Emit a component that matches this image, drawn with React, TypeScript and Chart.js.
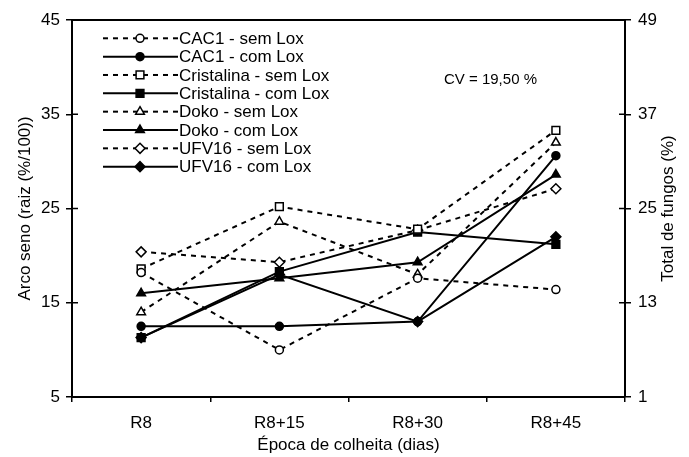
import React, { useEffect, useRef } from 'react';
import { Chart, registerables } from 'chart.js';
import { drawPoint } from 'chart.js/helpers';

Chart.register(...registerables);

const categories = ['R8', 'R8+15', 'R8+30', 'R8+45'];

const cac1Sem = [18.2, 10.0, 17.6, 16.4];
const cac1Com = [12.5, 12.5, 13.0, 30.6];
const cristalinaSem = [18.6, 25.2, 22.8, 33.3];
const cristalinaCom = [11.3, 18.3, 22.5, 21.2];
const dokoSem = [14.0, 23.6, 18.0, 32.0];
const dokoCom = [16.0, 17.6, 19.3, 28.6];
const ufv16Sem = [20.4, 19.3, 22.7, 27.1];
const ufv16Com = [11.3, 18.0, 13.0, 22.0];

const seriesLabels = [
  'CAC1 - sem Lox',
  'CAC1 - com Lox',
  'Cristalina - sem Lox',
  'Cristalina - com Lox',
  'Doko - sem Lox',
  'Doko - com Lox',
  'UFV16 - sem Lox',
  'UFV16 - com Lox',
];
const seriesData = [cac1Sem, cac1Com, cristalinaSem, cristalinaCom, dokoSem, dokoCom, ufv16Sem, ufv16Com];
const seriesMarkers = ['circle', 'circle', 'rect', 'rect', 'triangle', 'triangle', 'rectRot', 'rectRot'];
const seriesOpen = [true, false, true, false, true, false, true, false];

const leftTitle = 'Arco seno (raiz (%/100))';
const rightTitle = 'Total de fungos (%)';
const bottomTitle = 'Época de colheita (dias)';
const cvText = 'CV = 19,50 %';

const leftMin = 5, leftMax = 45, leftStep = 10;
const rightMin = 1, rightMax = 49, rightStep = 12;

const FONT = "'Liberation Sans', Arial, Helvetica, sans-serif";
const markerRadius: Record<string, number> = { circle: 4, rect: 5.5, triangle: 5, rectRot: 5 };

const decorPlugin = {
  id: 'decor',
  afterDraw(chart: any) {
    const { ctx, chartArea } = chart;
    const { left, right, top, bottom } = chartArea;
    ctx.save();
    ctx.strokeStyle = '#000';
    ctx.lineWidth = 2;
    ctx.setLineDash([]);
    ctx.beginPath();
    ctx.moveTo(left - 1, top);
    ctx.lineTo(right + 1, top);
    ctx.stroke();
    ctx.lineWidth = 1.5;
    const yL = chart.scales.y;
    yL.ticks.forEach((t: any) => {
      const py = yL.getPixelForValue(t.value);
      ctx.beginPath();
      ctx.moveTo(left, py);
      ctx.lineTo(left + 6, py);
      ctx.stroke();
    });
    const yR = chart.scales.y2;
    yR.ticks.forEach((t: any) => {
      const py = yR.getPixelForValue(t.value);
      ctx.beginPath();
      ctx.moveTo(right - 6, py);
      ctx.lineTo(right, py);
      ctx.stroke();
    });

    ctx.font = `17px ${FONT}`;
    ctx.fillStyle = '#000';
    ctx.textBaseline = 'middle';
    ctx.textAlign = 'left';
    chart.data.datasets.forEach((ds: any, i: number) => {
      const y = 38.3 + i * 18.34;
      ctx.strokeStyle = '#000';
      ctx.lineWidth = 2;
      ctx.setLineDash(ds.borderDash || []);
      ctx.beginPath();
      ctx.moveTo(103, y);
      ctx.lineTo(178, y);
      ctx.stroke();
      ctx.setLineDash([]);
      ctx.lineWidth = ds.pointBorderWidth;
      ctx.fillStyle = ds.pointBackgroundColor;
      ctx.strokeStyle = '#000';
      drawPoint(ctx, { pointStyle: ds.pointStyle, radius: ds.pointRadius, borderWidth: ds.pointBorderWidth, rotation: 0 } as any, 140, y);
      ctx.fillStyle = '#000';
      ctx.fillText(ds.label, 179, y + 1);
    });

    ctx.font = `15px ${FONT}`;
    ctx.fillText(cvText, 444, 80);

    ctx.font = `17px ${FONT}`;
    ctx.textAlign = 'center';
    ctx.save();
    ctx.translate(25, (top + bottom) / 2);
    ctx.rotate(-Math.PI / 2);
    ctx.fillText(leftTitle, 0, 0);
    ctx.restore();
    ctx.save();
    ctx.translate(668, (top + bottom) / 2);
    ctx.rotate(-Math.PI / 2);
    ctx.fillText(rightTitle, 0, 0);
    ctx.restore();
    ctx.fillText(bottomTitle, (left + right) / 2, 445);
    ctx.restore();
  },
};

export default function App() {
  const canvasRef = useRef<HTMLCanvasElement | null>(null);

  useEffect(() => {
    const canvas = canvasRef.current;
    if (!canvas) return;
    const datasets = seriesLabels.map((label, i) => ({
      label,
      data: seriesData[i],
      yAxisID: 'y',
      borderColor: '#000',
      borderWidth: 2,
      borderDash: seriesOpen[i] ? [5, 5] : [],
      pointStyle: seriesMarkers[i],
      pointRadius: markerRadius[seriesMarkers[i]],
      pointBorderWidth: 1.5,
      pointBorderColor: '#000',
      pointBackgroundColor: seriesOpen[i] ? '#fff' : '#000',
      fill: false,
      tension: 0,
    }));

    const chart = new Chart(canvas, {
      type: 'line',
      data: { labels: categories, datasets },
      options: {
        responsive: false,
        animation: false,
        layout: { padding: { top: 20, left: 0, right: 0, bottom: 0 } },
        plugins: {
          legend: { display: false },
          tooltip: { enabled: false },
          title: { display: false },
        },
        scales: {
          x: {
            type: 'category',
            offset: true,
            grid: { display: true, offset: true, drawOnChartArea: false, drawTicks: true, tickLength: 5, color: '#000', lineWidth: 1.5 },
            border: { display: true, color: '#000', width: 2 },
            ticks: { color: '#000', font: { family: FONT, size: 17 }, padding: 11, maxRotation: 0, autoSkip: false },
            afterFit: (s: any) => { s.height = 60; },
          },
          y: {
            type: 'linear',
            position: 'left',
            min: leftMin,
            max: leftMax,
            grid: { display: true, drawOnChartArea: false, drawTicks: true, tickLength: 6, color: '#000', lineWidth: 1.5 },
            border: { display: true, color: '#000', width: 2 },
            ticks: { stepSize: leftStep, color: '#000', font: { family: FONT, size: 17 }, padding: 6 },
            afterFit: (s: any) => { s.width = 72; },
          },
          y2: {
            type: 'linear',
            position: 'right',
            display: true,
            min: rightMin,
            max: rightMax,
            grid: { display: true, drawOnChartArea: false, drawTicks: true, tickLength: 6, color: '#000', lineWidth: 1.5 },
            border: { display: true, color: '#000', width: 2 },
            ticks: { stepSize: rightStep, color: '#000', font: { family: FONT, size: 17 }, padding: 7 },
            afterFit: (s: any) => { s.width = 64; },
          },
        },
      },
      plugins: [decorPlugin],
    } as any);
    return () => chart.destroy();
  }, []);

  return (
    <div style={{ position: 'absolute', left: 0, top: 0, width: 689, height: 457, background: '#fff' }}>
      <canvas ref={canvasRef} width={689} height={457} style={{ display: 'block' }} />
    </div>
  );
}
